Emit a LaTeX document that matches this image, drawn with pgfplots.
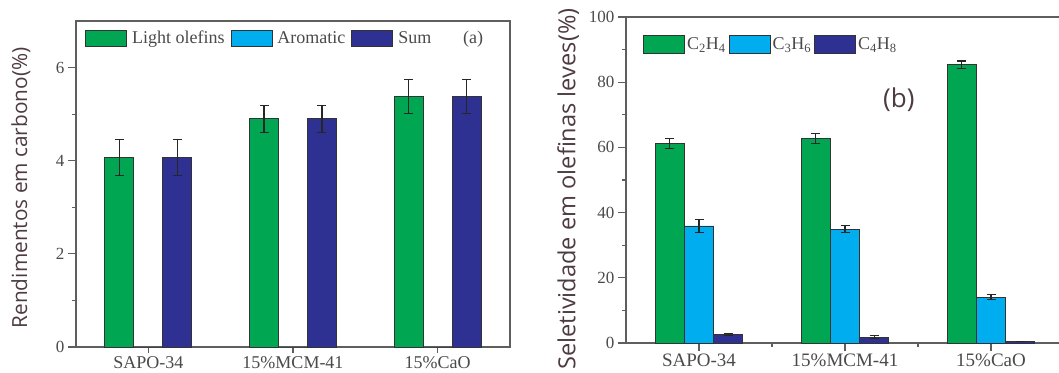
\documentclass[border=0pt]{standalone}
\usepackage{fontspec}
\setmainfont{Liberation Serif}
\newfontfamily\labfont{Open Sans}
\usepackage{pgfplots}
\pgfplotsset{compat=1.18}
\usepackage{pgfplotstable}

\definecolor{cgreen}{HTML}{00A651}
\definecolor{cblue}{HTML}{00AEEF}
\definecolor{cnavy}{HTML}{2E3192}
\definecolor{axgray}{HTML}{5E5E5E}
\definecolor{txt}{HTML}{4A4A4A}
\definecolor{labc}{HTML}{4E3B40}

\pgfplotstableread{
x lo loe ar are sum sume
0 4.07 0.38 0 0 4.07 0.38
1 4.90 0.29 0 0 4.90 0.29
2 5.38 0.37 0 0 5.38 0.37
}\tabA

\pgfplotstableread{
x c2 c2e c3 c3e c4 c4e
0 61.2 1.6 35.9 1.9 2.5 0.3
1 62.7 1.6 34.9 1.1 1.8 0.4
2 85.3 1.2 14.1 0.8 0.4 0.0
}\tabB

\pgfplotsset{
  mybar/.style={
    scale only axis, ybar, bar width=0.2,
    xmin=-0.5, xmax=2.5, ymin=0,
    xtick={0,1,2}, xticklabels={SAPO-34,15\%MCM-41,15\%CaO},
    xtick pos=bottom, ytick pos=left,
    tick align=outside, major tick length=8pt, minor tick length=4pt,
    axis line style={axgray, line width=1.3pt},
    every tick/.style={axgray, line width=1.1pt},
    tick label style={font=\fontsize{17}{17}\selectfont, text=txt},
    /pgf/number format/assume math mode=true,
    xticklabel style={font=\fontsize{19}{19}\selectfont, inner sep=0pt,
      text height=13pt, text depth=0pt, anchor=north},
    legend style={draw=none, fill=none, at={(axis description cs:0,1)}, anchor=north west,
      font=\fontsize{18}{18}\selectfont, text=txt, inner sep=0pt,
      legend columns=-1},
  },
  errb/.style={error bars/.cd, y dir=both, y explicit,
    error bar style={line width=1.2pt, black!85},
    error mark options={rotate=90, mark size=4.5pt, line width=1.2pt, black!85}},
  barst/.style={fill=#1, draw=black!80, line width=0.9pt},
}

\begin{document}
\begin{tikzpicture}[x=1pt,y=1pt]
\useasboundingbox (0,0) rectangle (1059,372);

% ---------------- (a) ----------------
\begin{axis}[mybar,
  at={(76pt,25pt)}, anchor=south west,
  width=434pt, height=326pt,
  ymax=7, ytick={0,2,4,6}, minor ytick={1,3,5},
  x tick style={/pgfplots/major tick length=6pt},
  xticklabel style={font=\fontsize{18}{18}\selectfont, text height=12.5pt, yshift=-0.5pt},
  every axis y label/.style={at={(axis description cs:-0.127,0.488)}, rotate=90, anchor=center},
  ylabel={\labfont\fontsize{20.8}{20.8}\selectfont\color{labc} Rendimentos em carbono(\%)},
  legend image code/.code={\draw[#1] (0pt,-8pt) rectangle (41pt,8pt);},
  legend style={xshift=9pt, yshift=-8pt,
    /tikz/every odd column/.append style={column sep=3pt},
    /tikz/every even column/.append style={column sep=4pt}},
]
\addplot[barst=cgreen, bar shift=-0.2, errb] table[x=x, y=lo, y error=loe] {\tabA};
\addplot[barst=cblue, bar shift=0] table[x=x, y=ar] {\tabA};
\addplot[barst=cnavy, bar shift=0.2, errb] table[x=x, y=sum, y error=sume] {\tabA};
\legend{Light olefins, Aromatic, Sum}
\node[font=\fontsize{18}{18}\selectfont, text=txt] at (axis description cs:0.915,0.945) {(a)};
\end{axis}

% ---------------- (b) ----------------
\begin{axis}[mybar,
  at={(626pt,29pt)}, anchor=south west,
  width=438pt, height=326pt,
  ymax=100, ytick={0,20,...,100}, minor ytick={10,30,...,90},
  minor xtick={0.5,1.5},
  xticklabel style={yshift=-2pt},
  every axis y label/.style={at={(axis description cs:-0.132,0.472)}, rotate=90, anchor=center},
  ylabel={\labfont\fontsize{23.6}{23.6}\selectfont\color{labc} Seletividade em olefinas leves(\%)},
  legend image code/.code={\draw[#1] (0pt,-9pt) rectangle (41pt,9pt);},
  legend style={xshift=17pt, yshift=-18pt,
    /tikz/every even column/.append style={column sep=1pt}},
]
\addplot[barst=cgreen, bar shift=-0.2, errb] table[x=x, y=c2, y error=c2e] {\tabB};
\addplot[barst=cblue, bar shift=0, errb] table[x=x, y=c3, y error=c3e] {\tabB};
\addplot[barst=cnavy, bar shift=0.2, errb] table[x=x, y=c4, y error=c4e] {\tabB};
\legend{C\textsubscript{2}H\textsubscript{4}, C\textsubscript{3}H\textsubscript{6}, C\textsubscript{4}H\textsubscript{8}}
\node[font=\labfont\fontsize{26}{26}\selectfont, text=labc] at (axis description cs:0.623,0.745) {(b)};
\end{axis}
\end{tikzpicture}
\end{document}
